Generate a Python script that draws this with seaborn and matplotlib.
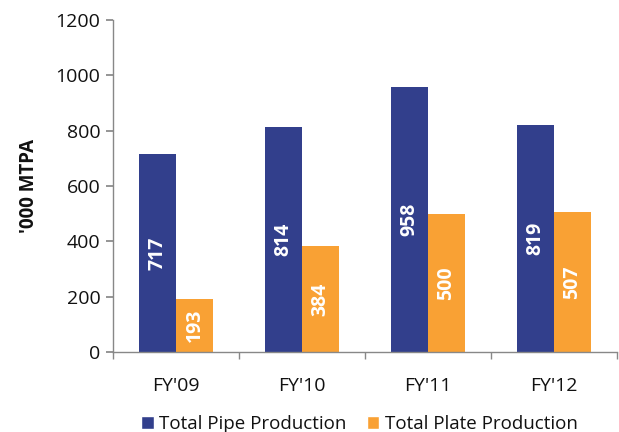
import matplotlib
matplotlib.use("Agg")
import matplotlib.pyplot as plt
import seaborn as sns
import pandas as pd
from matplotlib.patches import Patch

categories = ["FY'09", "FY'10", "FY'11", "FY'12"]
pipe = [717, 814, 958, 819]
plate = [193, 384, 500, 507]
series_names = ["Total Pipe Production", "Total Plate Production"]
colors = ["#323F8C", "#F9A134"]

sns.set_theme(style="white")
plt.rcParams['font.family'] = ['Open Sans', 'DejaVu Sans']

df = pd.DataFrame({
    "cat": categories * 2,
    "val": pipe + plate,
    "series": [series_names[0]] * 4 + [series_names[1]] * 4,
})

fig = plt.figure(figsize=(6.19, 4.32), dpi=100)
ax = fig.add_axes([113/619, 1 - 352/432, (617-113)/619, (352-20)/432])
sns.barplot(data=df, x="cat", y="val", hue="series", palette=colors,
            width=0.585, saturation=1, ax=ax, legend=False, errorbar=None,
            linewidth=0, edgecolor="none")

for cont in ax.containers:
    for bar in cont:
        h = bar.get_height()
        ax.text(bar.get_x() + bar.get_width()/2, h/2, f"{int(round(h))}",
                rotation=90, ha="center", va="center", color="white",
                fontsize=14, fontweight="bold")

ax.set_ylim(0, 1200)
ax.set_yticks(range(0, 1201, 200))
ax.set_xlim(-0.5, 3.5)
ax.set_xlabel("")
ax.set_ylabel("'000 MTPA", fontsize=13.5, fontweight="bold", labelpad=12,
              color="#111111")
for s in ["top", "right"]:
    ax.spines[s].set_visible(False)
for s in ["left", "bottom"]:
    ax.spines[s].set_color("#888888")
    ax.spines[s].set_linewidth(1)
ax.tick_params(axis="y", which="both", left=True, length=5, color="#888888",
               labelsize=14, pad=4, labelcolor="#111111")
ax.tick_params(axis="x", bottom=False, labelsize=14, pad=12, labelcolor="#111111")
ax.set_xticks([0, 1, 2, 3])
ax.set_xticklabels(categories)
ax.set_xticks([-0.5, 0.5, 1.5, 2.5, 3.5], minor=True)
ax.tick_params(axis="x", which="minor", bottom=True, length=5, color="#888888")

handles = [Patch(facecolor=c, label=n) for c, n in zip(colors, series_names)]
fig.legend(handles=handles, loc="center", bbox_to_anchor=(0.581, 1 - 424/432),
           ncol=2, frameon=False, fontsize=13.5, handlelength=0.65,
           handleheight=0.65, handletextpad=0.3, columnspacing=1.1,
           labelcolor="#111111")

fig.savefig("out.png", dpi=100)
